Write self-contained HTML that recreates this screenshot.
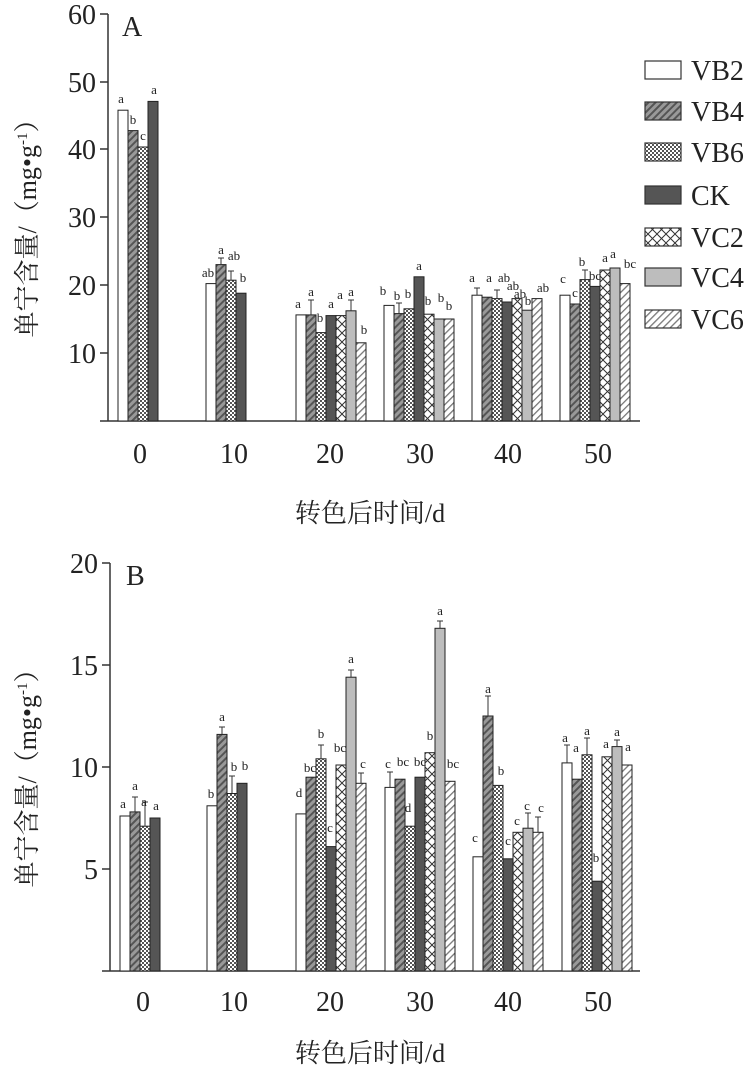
<!DOCTYPE html>
<html><head><meta charset="utf-8"><style>
html,body{margin:0;padding:0;background:#fff}
svg{display:block}
text{font-family:"Liberation Serif","Noto Serif CJK SC",serif;fill:#222}
.t{font-size:28px}
.l{font-size:13px;text-anchor:middle}
.lg{font-size:28px}
.cn{font-size:26px}
rect.b{stroke:#222;stroke-width:1}
</style></head><body>
<svg width="752" height="1075" viewBox="0 0 752 1075" xmlns="http://www.w3.org/2000/svg">
<defs>
<pattern id="p4" width="5" height="5" patternUnits="userSpaceOnUse" patternTransform="rotate(45)"><rect width="5" height="5" fill="#999"/><rect width="2" height="5" fill="#555"/></pattern>
<pattern id="p6" width="4" height="4" patternUnits="userSpaceOnUse"><rect width="4" height="4" fill="#fff"/><rect width="2" height="2" fill="#555"/><rect x="2" y="2" width="2" height="2" fill="#555"/></pattern>
<pattern id="pc2" width="9" height="9" patternUnits="userSpaceOnUse"><rect width="9" height="9" fill="#fff"/><path d="M0 0L9 9M9 0L0 9" stroke="#333" stroke-width="1"/></pattern>
<pattern id="pc6" width="5" height="5" patternUnits="userSpaceOnUse" patternTransform="rotate(45)"><rect width="5" height="5" fill="#fff"/><rect width="1.3" height="5" fill="#777"/></pattern>
</defs>
<style>
.s1{fill:#fff}.s2{fill:url(#p4)}.s3{fill:url(#p6)}.s4{fill:#555}.s5{fill:url(#pc2)}.s6{fill:#bdbdbd}.s7{fill:url(#pc6)}
</style>

<g stroke="#333" stroke-width="1.5" fill="none">
<path d="M108 14V421M100 421H640"/>
<path d="M100 14H108M100 82H108M100 149H108M100 217H108M100 285H108M100 353H108"/>
</g>
<g class="t" text-anchor="end">
<text x="96" y="24">60</text><text x="96" y="92">50</text><text x="96" y="159">40</text><text x="96" y="227">30</text><text x="96" y="295">20</text><text x="96" y="363">10</text>
</g>
<text x="122" y="36" class="t">A</text>
<g class="t" text-anchor="middle">
<text x="140" y="463">0</text><text x="234" y="463">10</text><text x="330" y="463">20</text><text x="420" y="463">30</text><text x="508" y="463">40</text><text x="598" y="463">50</text>
</g>
<text x="370" y="522" class="cn" text-anchor="middle">转色后时间/d</text>
<text transform="translate(36,222) rotate(-90)" class="cn" text-anchor="middle">单宁含量/（mg•g<tspan font-size="15" dy="-9">-1</tspan><tspan dy="9">）</tspan></text>

<rect class="b s1" x="118" y="110.2" width="10" height="310.8"/>
<rect class="b s2" x="128" y="130.6" width="10" height="290.4"/>
<rect class="b s3" x="138" y="147" width="10" height="274"/>
<rect class="b s4" x="148" y="101.4" width="10" height="319.6"/>

<rect class="b s1" x="206" y="283.6" width="10" height="137.4"/>
<rect class="b s2" x="216" y="264.6" width="10" height="156.4"/>
<rect class="b s3" x="226" y="280.2" width="10" height="140.8"/>
<rect class="b s4" x="236" y="293.2" width="10" height="127.8"/>

<rect class="b s1" x="296" y="314.9" width="10" height="106.1"/>
<rect class="b s2" x="306" y="314.9" width="10" height="106.1"/>
<rect class="b s3" x="316" y="332.6" width="10" height="88.4"/>
<rect class="b s4" x="326" y="315.6" width="10" height="105.4"/>
<rect class="b s5" x="336" y="315.6" width="10" height="105.4"/>
<rect class="b s6" x="346" y="310.8" width="10" height="110.2"/>
<rect class="b s7" x="356" y="342.8" width="10" height="78.2"/>

<rect class="b s1" x="384" y="305.4" width="10" height="115.6"/>
<rect class="b s2" x="394" y="313.6" width="10" height="107.4"/>
<rect class="b s3" x="404" y="308.8" width="10" height="112.2"/>
<rect class="b s4" x="414" y="276.8" width="10" height="144.2"/>
<rect class="b s5" x="424" y="314.2" width="10" height="106.8"/>
<rect class="b s6" x="434" y="319" width="10" height="102"/>
<rect class="b s7" x="444" y="319" width="10" height="102"/>

<rect class="b s1" x="472" y="295.2" width="10" height="125.8"/>
<rect class="b s2" x="482" y="297.2" width="10" height="123.8"/>
<rect class="b s3" x="492" y="298.6" width="10" height="122.4"/>
<rect class="b s4" x="502" y="302" width="10" height="119"/>
<rect class="b s5" x="512" y="298.6" width="10" height="122.4"/>
<rect class="b s6" x="522" y="310.2" width="10" height="110.8"/>
<rect class="b s7" x="532" y="298.6" width="10" height="122.4"/>

<rect class="b s1" x="560" y="295.2" width="10" height="125.8"/>
<rect class="b s2" x="570" y="304" width="10" height="117"/>
<rect class="b s3" x="580" y="279.6" width="10" height="141.4"/>
<rect class="b s4" x="590" y="286.4" width="10" height="134.6"/>
<rect class="b s5" x="600" y="270" width="10" height="151"/>
<rect class="b s6" x="610" y="268" width="10" height="153"/>
<rect class="b s7" x="620" y="283.6" width="10" height="137.4"/>

<g stroke="#333" stroke-width="1">
<path d="M221 265V258M218 258H224M231 280V271M228 271H234M311 315V300M308 300H314M351 311V300M348 300H354M399 314V303M396 303H402M477 295V288M474 288H480M497 299V290M494 290H500M585 280V270M582 270H588"/>
</g>

<g class="l">
<text x="121" y="103">a</text><text x="133" y="124">b</text><text x="143" y="140">c</text><text x="154" y="94">a</text>
<text x="208" y="277">ab</text><text x="221" y="254">a</text><text x="234" y="260">ab</text><text x="243" y="282">b</text>
<text x="298" y="308">a</text><text x="311" y="296">a</text><text x="320" y="322">b</text><text x="331" y="308">a</text><text x="340" y="299">a</text><text x="351" y="296">a</text><text x="364" y="334">b</text>
<text x="383" y="295">b</text><text x="397" y="300">b</text><text x="408" y="298">b</text><text x="419" y="270">a</text><text x="428" y="305">b</text><text x="441" y="302">b</text><text x="449" y="310">b</text>
<text x="472" y="282">a</text><text x="489" y="282">a</text><text x="504" y="282">ab</text><text x="513" y="290">ab</text><text x="520" y="298">ab</text><text x="528" y="305">b</text><text x="543" y="292">ab</text>
<text x="563" y="283">c</text><text x="575" y="297">c</text><text x="582" y="266">b</text><text x="595" y="280">bc</text><text x="605" y="262">a</text><text x="613" y="258">a</text><text x="630" y="268">bc</text>
</g>

<g stroke="#333" stroke-width="1.2">
<rect class="s1" x="645" y="61" width="36" height="18"/>
<rect class="s2" x="645" y="102" width="36" height="18"/>
<rect class="s3" x="645" y="143" width="36" height="18"/>
<rect class="s4" x="645" y="186" width="36" height="18"/>
<rect class="s5" x="645" y="228" width="36" height="18"/>
<rect class="s6" x="645" y="268" width="36" height="18"/>
<rect class="s7" x="645" y="310" width="36" height="18"/>
</g>
<g class="lg">
<text x="691" y="80">VB2</text><text x="691" y="121">VB4</text><text x="691" y="162">VB6</text><text x="691" y="205">CK</text><text x="691" y="247">VC2</text><text x="691" y="287">VC4</text><text x="691" y="329">VC6</text>
</g>

<g stroke="#333" stroke-width="1.5" fill="none">
<path d="M110 563V971M102 971H640"/>
<path d="M102 563H110M102 665H110M102 767H110M102 869H110"/>
</g>
<g class="t" text-anchor="end">
<text x="98" y="573">20</text><text x="98" y="675">15</text><text x="98" y="777">10</text><text x="98" y="879">5</text>
</g>
<text x="126" y="585" class="t">B</text>
<g class="t" text-anchor="middle">
<text x="143" y="1011">0</text><text x="234" y="1011">10</text><text x="330" y="1011">20</text><text x="420" y="1011">30</text><text x="508" y="1011">40</text><text x="598" y="1011">50</text>
</g>
<text x="370" y="1062" class="cn" text-anchor="middle">转色后时间/d</text>
<text transform="translate(36,772) rotate(-90)" class="cn" text-anchor="middle">单宁含量/（mg•g<tspan font-size="15" dy="-9">-1</tspan><tspan dy="9">）</tspan></text>

<rect class="b s1" x="120" y="816" width="10" height="155"/>
<rect class="b s2" x="130" y="811.9" width="10" height="159.1"/>
<rect class="b s3" x="140" y="826.2" width="10" height="144.8"/>
<rect class="b s4" x="150" y="818" width="10" height="153"/>

<rect class="b s1" x="207" y="805.8" width="10" height="165.2"/>
<rect class="b s2" x="217" y="734.4" width="10" height="236.6"/>
<rect class="b s3" x="227" y="793.5" width="10" height="177.5"/>
<rect class="b s4" x="237" y="783.3" width="10" height="187.7"/>

<rect class="b s1" x="296" y="813.9" width="10" height="157.1"/>
<rect class="b s2" x="306" y="777.2" width="10" height="193.8"/>
<rect class="b s3" x="316" y="758.8" width="10" height="212.2"/>
<rect class="b s4" x="326" y="846.6" width="10" height="124.4"/>
<rect class="b s5" x="336" y="765" width="10" height="206"/>
<rect class="b s6" x="346" y="677.2" width="10" height="293.8"/>
<rect class="b s7" x="356" y="783.3" width="10" height="187.7"/>

<rect class="b s1" x="385" y="787.4" width="10" height="183.6"/>
<rect class="b s2" x="395" y="779.2" width="10" height="191.8"/>
<rect class="b s3" x="405" y="826.2" width="10" height="144.8"/>
<rect class="b s4" x="415" y="777.2" width="10" height="193.8"/>
<rect class="b s5" x="425" y="752.7" width="10" height="218.3"/>
<rect class="b s6" x="435" y="628.3" width="10" height="342.7"/>
<rect class="b s7" x="445" y="781.3" width="10" height="189.7"/>

<rect class="b s1" x="473" y="856.8" width="10" height="114.2"/>
<rect class="b s2" x="483" y="716" width="10" height="255"/>
<rect class="b s3" x="493" y="785.4" width="10" height="185.6"/>
<rect class="b s4" x="503" y="858.8" width="10" height="112.2"/>
<rect class="b s5" x="513" y="832.3" width="10" height="138.7"/>
<rect class="b s6" x="523" y="828.2" width="10" height="142.8"/>
<rect class="b s7" x="533" y="832.3" width="10" height="138.7"/>

<rect class="b s1" x="562" y="762.9" width="10" height="208.1"/>
<rect class="b s2" x="572" y="779.2" width="10" height="191.8"/>
<rect class="b s3" x="582" y="754.8" width="10" height="216.2"/>
<rect class="b s4" x="592" y="881.2" width="10" height="89.8"/>
<rect class="b s5" x="602" y="756.8" width="10" height="214.2"/>
<rect class="b s6" x="612" y="746.6" width="10" height="224.4"/>
<rect class="b s7" x="622" y="765" width="10" height="206"/>

<g stroke="#333" stroke-width="1">
<path d="M135 812V797M132 797H138M145 826V802M142 802H148M222 734V727M219 727H225M232 793V776M229 776H235M321 759V745M318 745H324M351 677V670M348 670H354M361 783V773M358 773H364M390 787V772M387 772H393M440 628V621M437 621H443M488 716V696M485 696H491M567 763V745M564 745H570M587 755V738M584 738H590M617 747V740M614 740H620M528 828V813M525 813H531M538 832V817M535 817H541"/>
</g>

<g class="l">
<text x="123" y="808">a</text><text x="135" y="790">a</text><text x="144" y="806">a</text><text x="156" y="810">a</text>
<text x="211" y="798">b</text><text x="222" y="721">a</text><text x="234" y="771">b</text><text x="245" y="770">b</text>
<text x="299" y="797">d</text><text x="310" y="772">bc</text><text x="321" y="738">b</text><text x="330" y="832">c</text><text x="340" y="752">bc</text><text x="351" y="663">a</text><text x="363" y="768">c</text>
<text x="388" y="768">c</text><text x="403" y="766">bc</text><text x="408" y="812">d</text><text x="420" y="766">bc</text><text x="430" y="740">b</text><text x="440" y="615">a</text><text x="453" y="768">bc</text>
<text x="475" y="842">c</text><text x="488" y="693">a</text><text x="501" y="775">b</text><text x="508" y="845">c</text><text x="517" y="825">c</text><text x="527" y="810">c</text><text x="541" y="812">c</text>
<text x="565" y="742">a</text><text x="576" y="752">a</text><text x="587" y="735">a</text><text x="596" y="862">b</text><text x="606" y="748">a</text><text x="617" y="736">a</text><text x="628" y="751">a</text>
</g>
</svg>
</body></html>
